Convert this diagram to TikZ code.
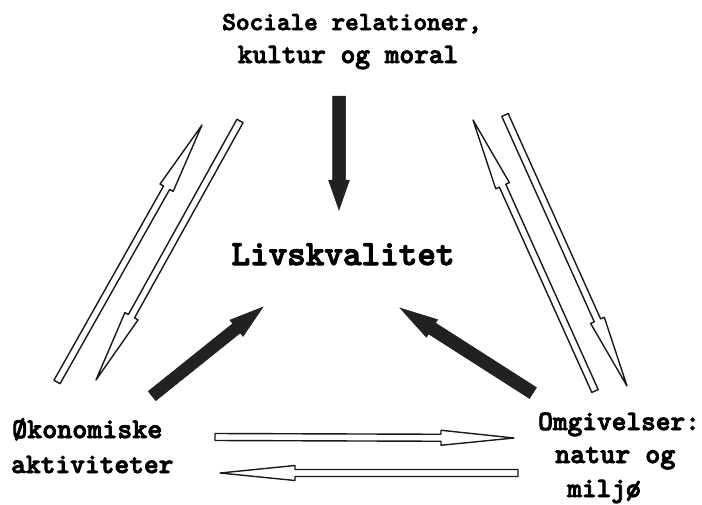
\documentclass[tikz,border=0pt]{standalone}
\usepackage{fontspec}
\usetikzlibrary{calc}
\newfontfamily\monobold{lmmonolt10-bold}[Extension=.otf, FakeBold=3]

% Flat arrow drawn as one outline: style, tail, tip,
% shaft half-width, head half-width, head length
\newcommand{\flatarrow}[6]{%
  \coordinate (fa-h) at ($(#3)!#6!(#2)$);
  \draw[#1] ($(#2)!#4!90:(#3)$) -- ($(fa-h)!#4!-90:(#2)$)
    -- ($(fa-h)!#5!-90:(#2)$) -- (#3) -- ($(fa-h)!#5!90:(#2)$)
    -- ($(fa-h)!#4!90:(#2)$) -- ($(#2)!#4!-90:(#3)$) -- cycle;
}
\newcommand{\tsize}[1]{\monobold\fontsize{#1}{#1}\selectfont}

\tikzset{
  label/.style={inner sep=0pt, text=black},
  hollow/.style={draw=black!90, fill=white, line width=1.4pt, line join=round},
  solid/.style={draw=black!87, fill=black!87, line width=0.5pt, line join=miter},
}

\begin{document}
\begin{tikzpicture}[x=1pt,y=-1pt]
\useasboundingbox (0,0) rectangle (702,504);

% Labels
\node[label, anchor=base, font=\tsize{26}] (soc1) at (352,30) {Sociale relationer,};
\node[label, anchor=base, font=\tsize{28}] (soc2) at (348,63) {kultur og moral};
\node[label, anchor=base, font=\tsize{35.4}] (liv) at (343,265) {Livskvalitet};
\node[label, anchor=base west, font=\tsize{28.6}] (oko1) at (12,438) {Økonomiske};
\node[label, anchor=base west, font=\tsize{28.1}] (oko2) at (11,473) {aktiviteter};
\node[label, anchor=base west, font=\tsize{28}] (omg1) at (538,430) {Omgivelser:};
\node[label, anchor=base west, font=\tsize{28.6}] (omg2) at (555,463) {natur og};
\node[label, anchor=base west, font=\tsize{28}] (omg3) at (567,497) {miljø};

% Arrow end points
\coordinate (cT) at (339,96);   \coordinate (cH) at (339,210);
\coordinate (lT) at (152,396);  \coordinate (lH) at (263,307);
\coordinate (rT) at (533,393);  \coordinate (rH) at (400,308);

\coordinate (a1T) at (57,382);  \coordinate (a1H) at (202,125);
\coordinate (a2T) at (240,121); \coordinate (a2H) at (96,380);
\coordinate (b1T) at (595,391); \coordinate (b1H) at (473,120);
\coordinate (b2T) at (505,115); \coordinate (b2H) at (627,386);
\coordinate (d1T) at (215,437); \coordinate (d1H) at (514,438);
\coordinate (d2T) at (518,473); \coordinate (d2H) at (220,473);

% Black arrows towards the centre
\flatarrow{solid}{cT}{cH}{6.5pt}{10.5pt}{30pt}
\flatarrow{solid}{lT}{lH}{6pt}{10.5pt}{34pt}
\flatarrow{solid}{rT}{rH}{6.5pt}{10.5pt}{38pt}

% Hollow two-way arrows between the corners
\flatarrow{hollow}{a1T}{a1H}{3.5pt}{7.5pt}{72pt}
\flatarrow{hollow}{a2T}{a2H}{3.5pt}{7.5pt}{73pt}
\flatarrow{hollow}{b1T}{b1H}{3.5pt}{7.5pt}{72pt}
\flatarrow{hollow}{b2T}{b2H}{3.5pt}{7.5pt}{72pt}
\flatarrow{hollow}{d1T}{d1H}{3.5pt}{7.5pt}{73pt}
\flatarrow{hollow}{d2T}{d2H}{3.5pt}{7.5pt}{75pt}
\end{tikzpicture}
\end{document}
